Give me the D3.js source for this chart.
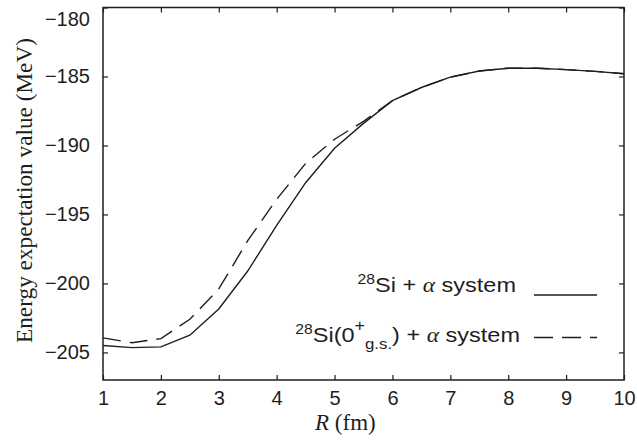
<!DOCTYPE html>
<html>
<head>
<meta charset="utf-8">
<script src="https://cdn.jsdelivr.net/npm/d3@7"></script>
<style>
  body { margin: 0; background: #fff; }
  svg { display: block; }
</style>
</head>
<body>
<div id="chart"></div>
<script>
// inter-cluster distance R (fm)
const R = [1, 1.5, 2, 2.5, 3, 3.5, 4, 4.5, 5, 5.5, 6, 6.5, 7, 7.5, 8, 8.5, 9, 9.5, 10];
// 28Si + alpha system (solid)
const fullSystem = [-204.5, -204.65, -204.6, -203.75, -201.85, -199.1, -195.8, -192.7, -190.2, -188.4,
    -186.75, -185.8, -185.05, -184.6, -184.4, -184.4, -184.5, -184.63, -184.8];
// 28Si(0+ g.s.) + alpha system (dashed)
const groundState = [-203.95, -204.3, -204.0, -202.6, -200.4, -196.9, -193.9, -191.3, -189.55, -188.25,
    -186.75, -185.8, -185.05, -184.6, -184.4, -184.4, -184.5, -184.63, -184.8];
const xTicks = [1, 2, 3, 4, 5, 6, 7, 8, 9, 10];
const yTicks = [-205, -200, -195, -190, -185, -180];

const width = 637, height = 442;
const margin = { top: 7.5, right: 13, bottom: 62, left: 103 };
const ink = "#1e1e1e";

const svg = d3.select("#chart")
    .append("svg")
    .attr("width", width)
    .attr("height", height);

const x = d3.scaleLinear().domain([1, 10]).range([margin.left, width - margin.right]);
const y = d3.scaleLinear().domain([-207, -180]).range([height - margin.bottom, margin.top]);

const sans = "'Liberation Sans', Arial, sans-serif";
const serif = "'Liberation Serif', 'Times New Roman', serif";

// axes, ticks pointing inward
svg.append("g")
    .attr("transform", `translate(0,${y(-207)})`)
    .call(d3.axisBottom(x).tickValues(xTicks).tickSize(-5).tickPadding(11).tickFormat(d3.format("d")));
svg.append("g")
    .attr("transform", `translate(0,${y(-180)})`)
    .call(d3.axisTop(x).tickValues(xTicks).tickSize(-5).tickFormat(""));
const yAxis = svg.append("g")
    .attr("transform", `translate(${x(1)},0)`)
    .call(d3.axisLeft(y).tickValues(yTicks).tickSize(-5).tickPadding(13));
svg.append("g")
    .attr("transform", `translate(${x(10)},0)`)
    .call(d3.axisRight(y).tickValues(yTicks).tickSize(-5).tickFormat(""));

svg.selectAll(".domain").remove();
svg.selectAll(".tick line").attr("stroke", ink).attr("stroke-width", 1.2);
svg.selectAll(".tick text")
    .attr("fill", ink)
    .style("font-family", sans)
    .style("font-size", "20px");
// keep the top label inside the page
yAxis.selectAll(".tick text").filter(d => d === -180).attr("dy", "0.9em");

// frame
svg.append("rect")
    .attr("x", x(1))
    .attr("y", y(-180))
    .attr("width", x(10) - x(1))
    .attr("height", y(-207) - y(-180))
    .attr("fill", "none")
    .attr("stroke", ink)
    .attr("stroke-width", 1.5);

// curves
const line = d3.line()
    .x((d, i) => x(R[i]))
    .y(d => y(d));

svg.append("path")
    .datum(groundState)
    .attr("d", line)
    .attr("fill", "none")
    .attr("stroke", ink)
    .attr("stroke-width", 1.4)
    .attr("stroke-dasharray", "18,9");

svg.append("path")
    .datum(fullSystem)
    .attr("d", line)
    .attr("fill", "none")
    .attr("stroke", ink)
    .attr("stroke-width", 1.4);

// axis titles
const yTitle = svg.append("text")
    .attr("transform", `translate(31.5,190.5) rotate(-90)`)
    .attr("text-anchor", "middle")
    .attr("fill", ink)
    .style("font-family", serif)
    .style("font-size", "23px")
    .text("Energy expectation value (MeV)");
// fit the title to the span it has in the original
const yLen = yTitle.node().getComputedTextLength();
yTitle.style("font-size", (23 * 305 / yLen) + "px");

const xTitle = svg.append("text")
    .attr("x", 315)
    .attr("y", 430)
    .attr("fill", ink)
    .style("font-family", serif)
    .style("font-size", "23px");
xTitle.append("tspan").style("font-style", "italic").text("R");
xTitle.append("tspan").text(" (fm)");

// legend
const legend = svg.append("g")
    .attr("fill", ink)
    .style("font-family", sans)
    .style("font-size", "21px");

const l1 = legend.append("text")
    .attr("transform", "translate(516,292) scale(1.12,1)")
    .attr("text-anchor", "end");
l1.append("tspan").attr("dy", -8).style("font-size", "14px").text("28");
l1.append("tspan").attr("dy", 8).text("Si + ");
l1.append("tspan").style("font-family", serif).style("font-style", "italic").text("α");
l1.append("tspan").text(" system");

const l2 = legend.append("text")
    .attr("transform", "translate(520,342) scale(1.12,1)")
    .attr("text-anchor", "end");
l2.append("tspan").attr("dy", -8).style("font-size", "14px").text("28");
l2.append("tspan").attr("dy", 8).text("Si(0");
l2.append("tspan").attr("dy", -11).style("font-size", "16px").text("+");
l2.append("tspan").attr("dx", 0).attr("dy", 18).style("font-size", "15px").text("g.s.");
l2.append("tspan").attr("dy", -7).text(") + ");
l2.append("tspan").style("font-family", serif).style("font-style", "italic").text("α");
l2.append("tspan").text(" system");

legend.append("line")
    .attr("x1", 534).attr("x2", 597).attr("y1", 295).attr("y2", 295)
    .attr("stroke", ink).attr("stroke-width", 1.4);
legend.append("line")
    .attr("x1", 534).attr("x2", 597).attr("y1", 337.5).attr("y2", 337.5)
    .attr("stroke", ink).attr("stroke-width", 1.4)
    .attr("stroke-dasharray", "19,9");
</script>
</body>
</html>
